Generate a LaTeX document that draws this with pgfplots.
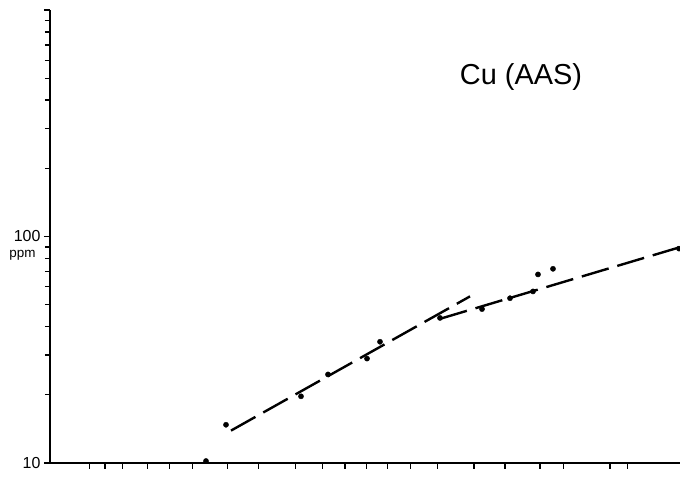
\documentclass[border=0pt]{standalone}
\usepackage{fontspec}
\setmainfont{Liberation Sans}
\usepackage{pgfplots}
\pgfplotsset{compat=1.18}
\begin{document}
\begin{tikzpicture}[x=1bp,y=1bp]
\path[use as bounding box] (0,0) rectangle (680,477);
\begin{axis}[
  at={(50bp,14bp)}, anchor=south west,
  scale only axis, width=630bp, height=453bp,
  clip=false,
  axis x line*=bottom, axis y line*=left,
  axis line style={line width=1.4bp, black},
  ymode=log, xmin=0, xmax=630, ymin=10, ymax=1000,
  xtick={39.3,55,72.7,97.3,119.3,142.7,177.3,208.3,245.7,272.7,295,316.5,337.3,360.7,387.3,424,455,490,513.3,560,577.3},
  xticklabels={},
  ytick={10,100,1000},
  yticklabels={\textrm{10},\raisebox{2bp}{\textrm{100}},{}},
  minor ytick={20,30,40,50,60,70,80,90,200,300,400,500,600,700,800,900},
  tick align=outside,
  major tick length=6bp, minor tick length=5bp,
  every tick/.style={line width=1.3bp, black},
  yticklabel style={font=\fontsize{16}{16}\selectfont, xshift=0bp},
]
\addplot[only marks, mark=*, mark size=2.6bp, black] coordinates {
  (156,10.2) (176,14.75) (251,19.7) (278,24.6) (317,28.9) (330,34.3)
  (390,43.7) (432,47.8) (460,53.4) (483,57.2) (488,68) (503,72) (629,88.4)};
\addplot[line width=2.4bp, black, dash pattern=on 28bp off 9bp] coordinates {(181,13.9) (420,54.4)};
\addplot[line width=2.4bp, black, dash pattern=on 28bp off 9bp] coordinates {(390,43.3) (630,89.7)};
\end{axis}
\node[font=\fontsize{13.5}{13.5}\selectfont] at (22.5,222) {ppm};
\node[font=\fontsize{29}{29}\selectfont] at (521,400) {Cu (AAS)};
\end{tikzpicture}
\end{document}
